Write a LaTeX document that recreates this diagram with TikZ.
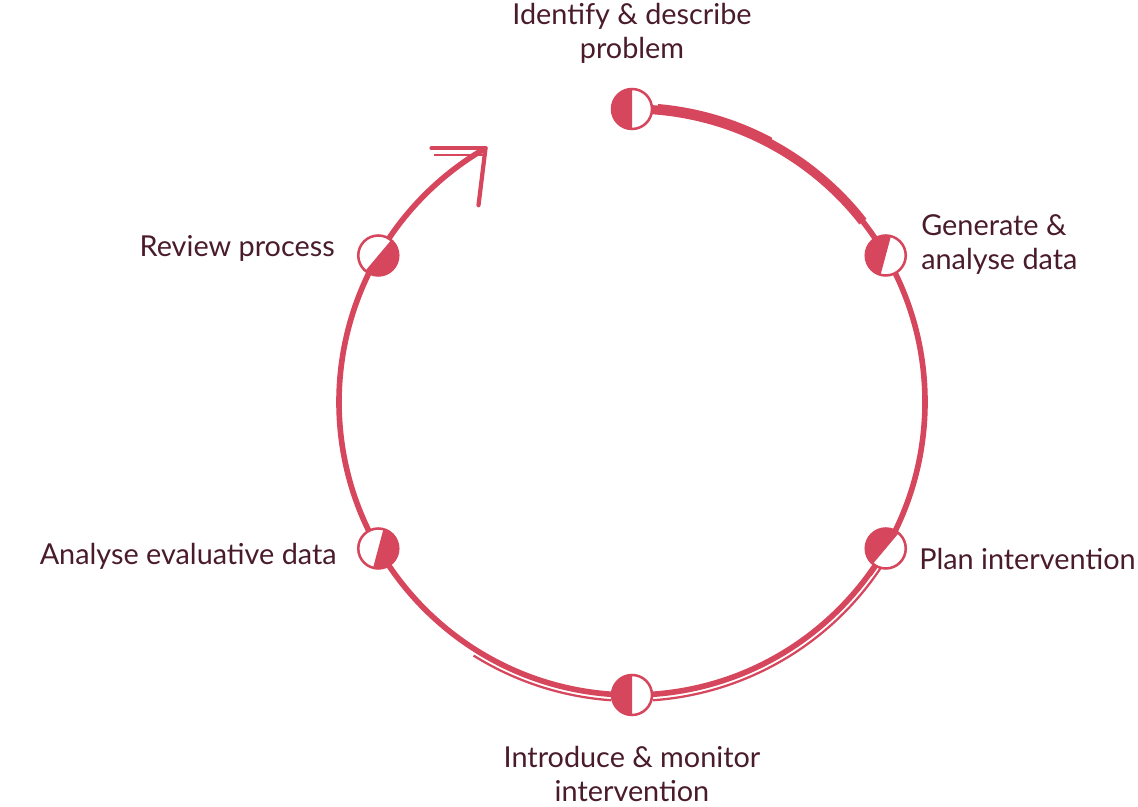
\documentclass[tikz,border=0pt]{standalone}
\usepackage{fontspec}
\setmainfont{Lato}
\usetikzlibrary{positioning,calc}
\definecolor{cyclered}{HTML}{D6465C}
\definecolor{labelink}{HTML}{4A1C2B}

\tikzset{
  stage/.style={circle, draw=cyclered, fill=white, line width=1.8pt,
    minimum size=1cm, inner sep=0pt,
    path picture={
      \fill[cyclered] (path picture bounding box.center) ++(#1:0.6cm)
        arc[start angle=#1, delta angle=180, radius=0.6cm] -- cycle;}},
  steplabel/.style={text=labelink, font=\fontsize{20.5}{24}\selectfont, inner sep=0pt, align=center},
}

\begin{document}
\begin{tikzpicture}[x=0.025cm, y=0.025cm]
  \useasboundingbox (0,0) rectangle (1138,807);
  % centre of the cycle
  \coordinate (c) at (632,405);
  % the cycle itself, clockwise from the top
  \draw[cyclered, line width=4pt] (c) ++(90:293) arc[start angle=90, end angle=-240, radius=293]
    coordinate (tip);
  \draw[cyclered, line width=6.5pt] (c) ++(90:293) arc[start angle=90, end angle=38, radius=293];
  % sketchy double strokes
  \draw[cyclered, line width=1.6pt] (c) ++(-33:299) arc[start angle=-33, end angle=-86, radius=299];
  \draw[cyclered, line width=1.6pt] (c) ++(-94:299) arc[start angle=-94, end angle=-122, radius=299];
  \draw[cyclered, line width=1.6pt] (c) ++(-28:295) arc[start angle=-28, end angle=-36, radius=295];
  \draw[cyclered, line width=1.6pt] (c) ++(85:298) arc[start angle=85, end angle=62, radius=298];
  % arrow head
  \draw[cyclered, line width=3pt, line cap=round] (tip) -- ++(-54,0);
  \draw[cyclered, line width=3pt, line cap=round] (tip) -- ++(-7,-57);
  \draw[cyclered, line width=1.2pt] ([yshift=-0.17cm]tip) -- ++(-52,0);
  % the stages
  \node[stage=90]  (s1) at ($(c)+(90:293)$) {};
  \node[stage=75]  (s2) at ($(c)+(30:293)$) {};
  \node[stage=50]  (s3) at ($(c)+(-30:293)$) {};
  \node[stage=90]  (s4) at ($(c)+(-90:293)$) {};
  \node[stage=255] (s5) at ($(c)+(-150:293)$) {};
  \node[stage=230] (s6) at ($(c)+(150:293)$) {};
  % labels
  \node[steplabel, above=0.6cm of s1] {Identify \& describe\\problem};
  \node[steplabel, right=0.35cm of s2, yshift=0.27cm, align=left] {Generate \&\\analyse data};
  \node[steplabel, right=0.3cm of s3, yshift=-0.27cm] {Plan intervention};
  \node[steplabel, below=0.75cm of s4] {Introduce \& monitor\\intervention};
  \node[steplabel, left=0.5cm of s5, yshift=-0.2cm] {Analyse evaluative data};
  \node[steplabel, left=0.55cm of s6, yshift=0.17cm] {Review process};
\end{tikzpicture}
\end{document}
